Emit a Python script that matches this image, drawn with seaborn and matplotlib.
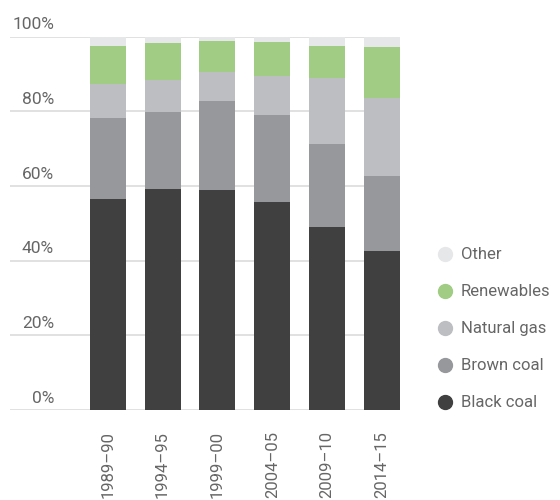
import numpy as np
import pandas as pd
import matplotlib
matplotlib.use("Agg")
import matplotlib.pyplot as plt
from matplotlib.lines import Line2D
import seaborn as sns

# ── Data (percent share of generation) ────────────────────
years = ['1989–90', '1994–95', '1999–00', '2004–05', '2009–10', '2014–15']
black_coal = [56.5, 59.2, 58.9, 55.7, 49.0, 42.6]
brown_coal = [21.7, 20.6, 23.8, 23.3, 22.2, 20.1]
natural_gas = [9.1, 8.6, 7.8, 10.4, 17.7, 20.8]
renewables = [10.2, 9.9, 8.3, 9.1, 8.6, 13.7]
other = [2.5, 1.7, 1.2, 1.5, 2.5, 2.8]

series = ['Black coal', 'Brown coal', 'Natural gas', 'Renewables', 'Other']
colors = ['#404040', '#97989b', '#bdbec1', '#a0cc84', '#e6e7e9']
yticks = [0, 20, 40, 60, 80, 100]

df = pd.DataFrame({'year': years, 'Black coal': black_coal,
                   'Brown coal': brown_coal, 'Natural gas': natural_gas,
                   'Renewables': renewables, 'Other': other})
cum = df[series].cumsum(axis=1)

sns.set_style('white')
plt.rcParams['font.family'] = ['Roboto', 'DejaVu Sans']
text_col = '#666666'

fig = plt.figure(figsize=(5.6, 5.0), dpi=100)
ax = fig.add_axes([10/560, 90/500, 390/560, 373.5/500])

# gridlines first
for t in yticks:
    ax.axhline(t, color='#dcdcdc', lw=1.2, zorder=0)

# stacked bars: draw cumulative totals from top to bottom
for name, col in reversed(list(zip(series, colors))):
    sns.barplot(x=df['year'], y=cum[name], color=col, width=0.655,
                linewidth=0, saturation=1, ax=ax, zorder=2)

ax.set_xlim(-1.78, 5.327)
ax.set_ylim(0, 100)
ax.set_xlabel('')
ax.set_ylabel('')
ax.set_yticks([])
for s in ax.spines.values():
    s.set_visible(False)

ax.tick_params(axis='x', length=0, pad=15, labelsize=12, labelcolor=text_col)
plt.setp(ax.get_xticklabels(), rotation=90, va='top')

# y labels sit above the gridlines
for t in yticks:
    ax.annotate(f'{t}%', xy=(0.113, t), xycoords=ax.get_yaxis_transform(),
                xytext=(0, 3), textcoords='offset points',
                ha='right', va='bottom', fontsize=12.5, color=text_col)

handles = [Line2D([0], [0], marker='o', ls='', markersize=10,
                  markerfacecolor=c, markeredgecolor=c)
           for c in reversed(colors)]
fig.legend(handles, list(reversed(series)), loc='upper left',
           bbox_to_anchor=(424/560, 1 - 239/500), frameon=False,
           fontsize=12, labelcolor=text_col, handletextpad=0.2,
           labelspacing=1.32, handlelength=1.5, borderpad=0)

fig.savefig('out.png', dpi=100)
